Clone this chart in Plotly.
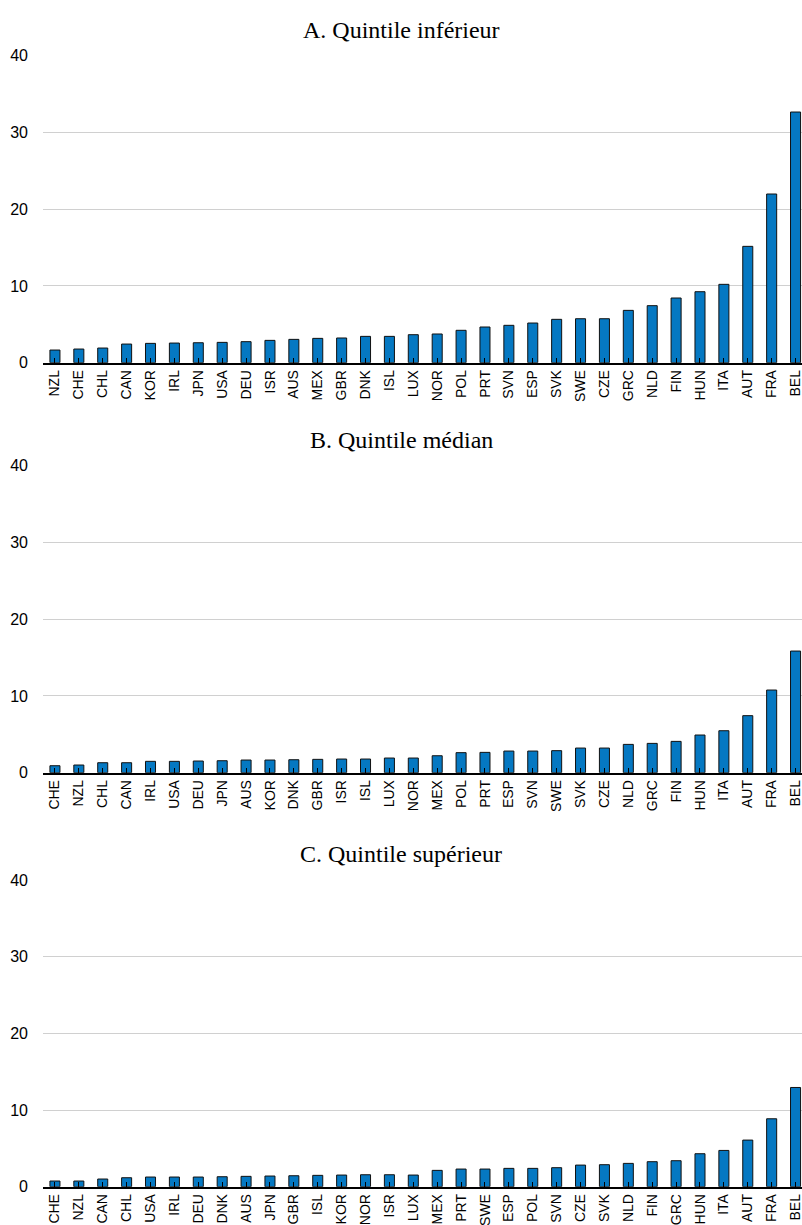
import plotly.graph_objects as go

# Panel A: Quintile inférieur
cats_a = ["NZL","CHE","CHL","CAN","KOR","IRL","JPN","USA","DEU","ISR","AUS","MEX","GBR","DNK","ISL","LUX",
          "NOR","POL","PRT","SVN","ESP","SVK","SWE","CZE","GRC","NLD","FIN","HUN","ITA","AUT","FRA","BEL"]
vals_a = [1.65,1.78,1.91,2.43,2.52,2.56,2.60,2.65,2.74,2.91,3.04,3.17,3.22,3.43,3.43,3.65,
          3.74,4.22,4.65,4.87,5.17,5.65,5.73,5.73,6.82,7.43,8.43,9.25,10.21,15.16,21.98,32.66]

# Panel B: Quintile médian
cats_b = ["CHE","NZL","CHL","CAN","IRL","USA","DEU","JPN","AUS","KOR","DNK","GBR","ISR","ISL","LUX","NOR",
          "MEX","POL","PRT","ESP","SVN","SWE","SVK","CZE","NLD","GRC","FIN","HUN","ITA","AUT","FRA","BEL"]
vals_b = [0.91,1.00,1.30,1.30,1.48,1.48,1.52,1.56,1.65,1.65,1.69,1.74,1.78,1.78,1.91,1.91,
          2.21,2.61,2.65,2.82,2.82,2.87,3.21,3.21,3.69,3.82,4.08,4.91,5.47,7.43,10.77,15.85]

# Panel C: Quintile supérieur
cats_c = ["CHE","NZL","CAN","CHL","USA","IRL","DEU","DNK","AUS","JPN","GBR","ISL","KOR","NOR","ISR","LUX",
          "MEX","PRT","SWE","ESP","POL","SVN","CZE","SVK","NLD","FIN","GRC","HUN","ITA","AUT","FRA","BEL"]
vals_c = [0.74,0.74,1.00,1.17,1.26,1.26,1.26,1.30,1.35,1.39,1.43,1.48,1.52,1.56,1.56,1.52,
          2.13,2.30,2.30,2.39,2.39,2.48,2.82,2.87,3.04,3.26,3.39,4.30,4.73,6.08,8.86,12.94]

titles = ["A. Quintile inférieur", "B. Quintile médian", "C. Quintile supérieur"]
y_ticks = [0, 10, 20, 30, 40]

W, H = 802, 1225
BAR = "#0578c2"
LABEL_FONT = "Liberation Sans, Arial, sans-serif"
TITLE_FONT = "Liberation Serif, Times New Roman, serif"

# pixel positions of each panel (top = value 40, bottom = value 0)
panels_px = [(55.7, 362.7), (465.7, 772.7), (880.0, 1186.7)]
x0_px = 43.0

def py(p):
    return 1 - p / H

fig = go.Figure()
data = [(cats_a, vals_a), (cats_b, vals_b), (cats_c, vals_c)]
for i, ((cats, vals), (top, bot)) in enumerate(zip(data, panels_px)):
    n = i + 1
    xa = "x" if n == 1 else f"x{n}"
    ya = "y" if n == 1 else f"y{n}"
    fig.add_trace(go.Bar(
        x=list(range(len(cats))), y=vals, xaxis=xa, yaxis=ya,
        width=0.42, marker=dict(color=BAR, line=dict(color="#111111", width=1)),
        showlegend=False, hoverinfo="skip"))
    xkey = "xaxis" if n == 1 else f"xaxis{n}"
    ykey = "yaxis" if n == 1 else f"yaxis{n}"
    fig.update_layout(**{
        xkey: dict(domain=[x0_px / W, 1], anchor=ya, range=[-0.5, 31.27],
                   tickmode="array", tickvals=list(range(len(cats))), ticktext=cats,
                   tickangle=-90, tickson="boundaries", ticks="inside", ticklen=5,
                   tickcolor="#000", tickwidth=1, showline=True, linecolor="#000",
                   linewidth=1.5, showgrid=False, zeroline=False, automargin=False,
                   ticklabeloverflow="allow",
                   tickfont=dict(family=LABEL_FONT, size=14, color="#000")),
        ykey: dict(domain=[py(bot), py(top)], anchor=xa, range=[0, 40], tickvals=y_ticks,
                   showgrid=True, gridcolor="#d0d0d0", gridwidth=1, zeroline=False,
                   showline=False, ticks="", automargin=False, ticklabelstandoff=14,
                   tickfont=dict(family=LABEL_FONT, size=16, color="#000")),
    })
    fig.add_annotation(text=titles[i], x=0.5, xref="paper", y=py(top - 26), yref="paper",
                       xanchor="center", yanchor="middle", showarrow=False,
                       font=dict(family=TITLE_FONT, size=24, color="#000"))

fig.update_layout(width=W, height=H, margin=dict(l=0, r=0, t=0, b=0),
                  paper_bgcolor="white", plot_bgcolor="white", bargap=0.5)

fig.write_html("out.html", config={"displayModeBar": False},
               post_script="document.body.style.margin='0';document.body.style.overflow='hidden';")
